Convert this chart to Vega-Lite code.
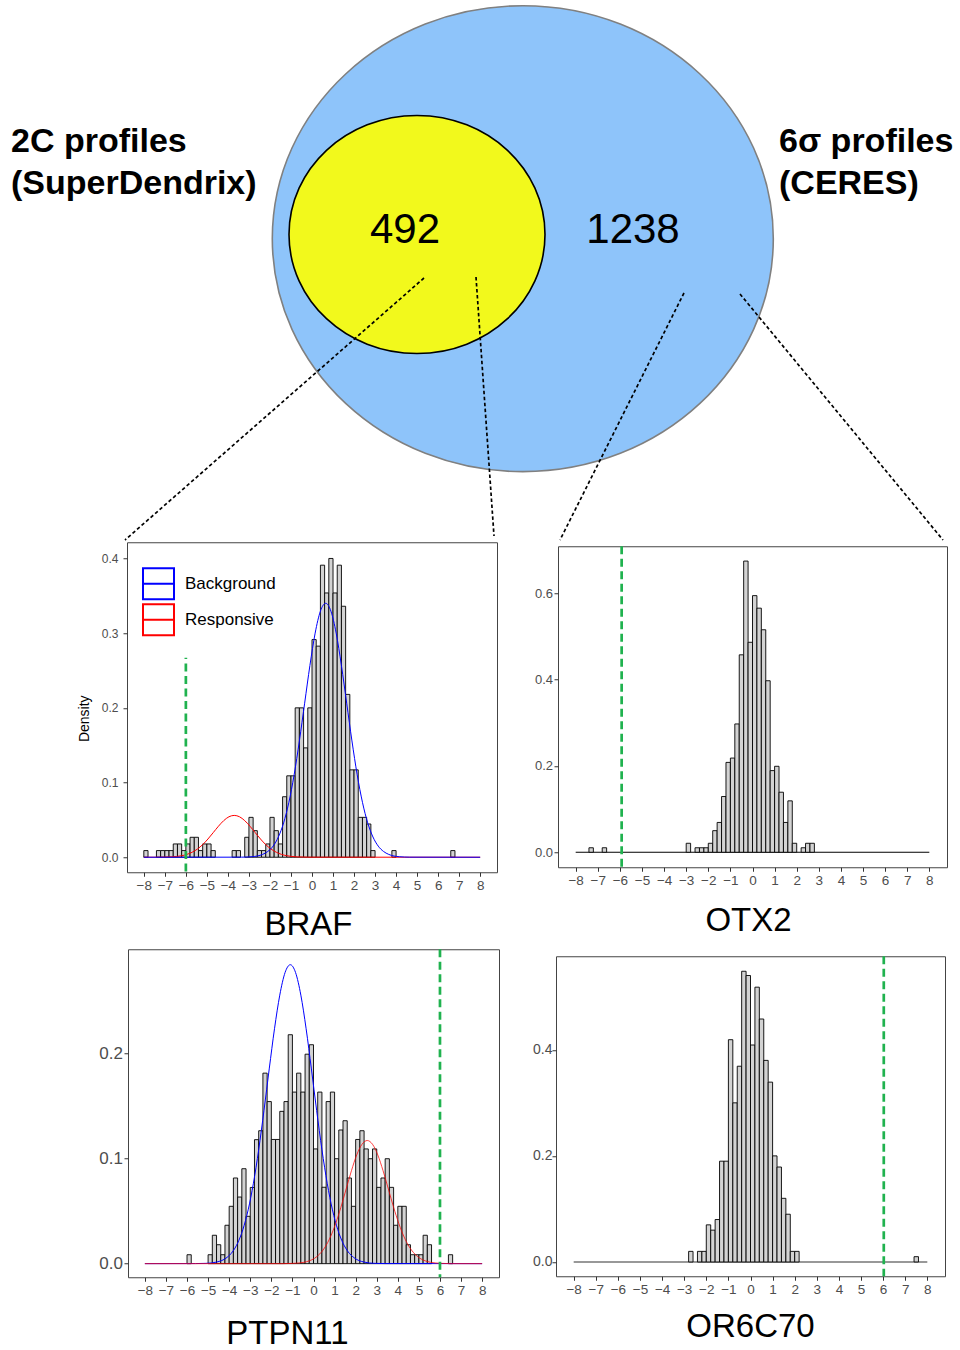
{
  "$schema": "https://vega.github.io/schema/vega-lite/v6.json",
  "padding": 0,
  "background": "#FFFFFF",
  "spacing": 0,
  "config": {
    "font": "Liberation Sans",
    "view": {"stroke": null},
    "axis": {"labelOverlap": false, "labelFlush": false, "labelBound": false, "labelSeparation": 0, "domain": false, "grid": false, "tickSize": 4, "tickColor": "#333333", "labelColor": "#4D4D4D"},
    "axisX": {"labelFontSize": 13.5, "labelPadding": 2, "labelOverlap": false},
    "axisBottom": {"labelFontSize": 13.5, "labelOverlap": false}
  },
  "resolve": {"scale": {"color": "independent"}, "legend": {"color": "independent"}},
  "datasets": {
    "sets": [
      {"set": "CERES", "cx": 522.8, "cy": 238.7},
      {"set": "SuperDendrix", "cx": 417, "cy": 234.5}
    ],
    "links": [
      {"gene": "BRAF", "x": 424, "y": 278, "x2": 125, "y2": 540},
      {"gene": "BRAF", "x": 476, "y": 277, "x2": 494, "y2": 536},
      {"gene": "OTX2", "x": 684, "y": 293, "x2": 560, "y2": 540},
      {"gene": "OTX2", "x": 740, "y": 294, "x2": 943, "y2": 540}
    ],
    "set_labels": [
      {"label": "2C profiles", "x": 11, "y": 152},
      {"label": "(SuperDendrix)", "x": 11, "y": 194},
      {"label": "6σ profiles", "x": 779, "y": 152},
      {"label": "(CERES)", "x": 779, "y": 194}
    ],
    "counts": [
      {"n": 492, "x": 405, "y": 243},
      {"n": 1238, "x": 633, "y": 243}
    ],
    "span": [{"x": -8, "x2": 8}],
    "cutoffs": [
      {"gene": "BRAF", "x": -6.0, "d": -0.019, "d2": 0.267},
      {"gene": "OTX2", "x": -5.92},
      {"gene": "PTPN11", "x": 6.0},
      {"gene": "OR6C70", "x": 6.03}
    ],
    "braf_hist": [
      {"x": -8.0, "x2": -7.8, "d": 0.0089},
      {"x": -7.4, "x2": -7.2, "d": 0.0089},
      {"x": -7.2, "x2": -7.0, "d": 0.0089},
      {"x": -7.0, "x2": -6.8, "d": 0.0089},
      {"x": -6.8, "x2": -6.6, "d": 0.0089},
      {"x": -6.6, "x2": -6.4, "d": 0.0178},
      {"x": -6.4, "x2": -6.2, "d": 0.0178},
      {"x": -6.2, "x2": -6.0, "d": 0.0089},
      {"x": -6.0, "x2": -5.8, "d": 0.0178},
      {"x": -5.8, "x2": -5.6, "d": 0.0267},
      {"x": -5.6, "x2": -5.4, "d": 0.0267},
      {"x": -5.4, "x2": -5.2, "d": 0.0089},
      {"x": -5.2, "x2": -5.0, "d": 0.0178},
      {"x": -5.0, "x2": -4.8, "d": 0.0178},
      {"x": -4.8, "x2": -4.6, "d": 0.0089},
      {"x": -3.8, "x2": -3.6, "d": 0.0089},
      {"x": -3.6, "x2": -3.4, "d": 0.0089},
      {"x": -3.2, "x2": -3.0, "d": 0.0267},
      {"x": -3.0, "x2": -2.8, "d": 0.0534},
      {"x": -2.8, "x2": -2.6, "d": 0.0356},
      {"x": -2.6, "x2": -2.4, "d": 0.0089},
      {"x": -2.4, "x2": -2.2, "d": 0.0089},
      {"x": -2.2, "x2": -2.0, "d": 0.0178},
      {"x": -2.0, "x2": -1.8, "d": 0.0534},
      {"x": -1.8, "x2": -1.6, "d": 0.0356},
      {"x": -1.6, "x2": -1.4, "d": 0.0178},
      {"x": -1.4, "x2": -1.2, "d": 0.081},
      {"x": -1.2, "x2": -1.0, "d": 0.109},
      {"x": -1.0, "x2": -0.8, "d": 0.109},
      {"x": -0.8, "x2": -0.6, "d": 0.2},
      {"x": -0.6, "x2": -0.4, "d": 0.2},
      {"x": -0.4, "x2": -0.2, "d": 0.1464},
      {"x": -0.2, "x2": 0.0, "d": 0.2},
      {"x": 0.0, "x2": 0.2, "d": 0.2914},
      {"x": 0.2, "x2": 0.4, "d": 0.2826},
      {"x": 0.4, "x2": 0.6, "d": 0.391},
      {"x": 0.6, "x2": 0.8, "d": 0.3538},
      {"x": 0.8, "x2": 1.0, "d": 0.4},
      {"x": 1.0, "x2": 1.2, "d": 0.3538},
      {"x": 1.2, "x2": 1.4, "d": 0.391},
      {"x": 1.4, "x2": 1.6, "d": 0.336},
      {"x": 1.6, "x2": 1.8, "d": 0.218},
      {"x": 1.8, "x2": 2.0, "d": 0.117},
      {"x": 2.0, "x2": 2.2, "d": 0.117},
      {"x": 2.2, "x2": 2.4, "d": 0.0534},
      {"x": 2.4, "x2": 2.6, "d": 0.0534},
      {"x": 2.6, "x2": 2.8, "d": 0.0445},
      {"x": 2.8, "x2": 3.0, "d": 0.0089},
      {"x": 3.8, "x2": 4.0, "d": 0.0089},
      {"x": 6.6, "x2": 6.8, "d": 0.0089}
    ],
    "braf_fit": [
      {"curve": "Background", "x": -8, "d": 0},
      {"curve": "Background", "x": -3.35, "d": 0.0001},
      {"curve": "Background", "x": -2.85, "d": 0.0007},
      {"curve": "Background", "x": -2.35, "d": 0.0038},
      {"curve": "Background", "x": -2.1, "d": 0.0078},
      {"curve": "Background", "x": -1.85, "d": 0.0149},
      {"curve": "Background", "x": -1.6, "d": 0.0271},
      {"curve": "Background", "x": -1.35, "d": 0.046},
      {"curve": "Background", "x": -1.1, "d": 0.0735},
      {"curve": "Background", "x": -0.85, "d": 0.1104},
      {"curve": "Background", "x": -0.6, "d": 0.1557},
      {"curve": "Background", "x": -0.35, "d": 0.2062},
      {"curve": "Background", "x": -0.1, "d": 0.2566},
      {"curve": "Background", "x": 0.15, "d": 0.3},
      {"curve": "Background", "x": 0.4, "d": 0.3295},
      {"curve": "Background", "x": 0.65, "d": 0.34},
      {"curve": "Background", "x": 0.9, "d": 0.3295},
      {"curve": "Background", "x": 1.15, "d": 0.3},
      {"curve": "Background", "x": 1.4, "d": 0.2566},
      {"curve": "Background", "x": 1.65, "d": 0.2062},
      {"curve": "Background", "x": 1.9, "d": 0.1557},
      {"curve": "Background", "x": 2.15, "d": 0.1104},
      {"curve": "Background", "x": 2.4, "d": 0.0735},
      {"curve": "Background", "x": 2.65, "d": 0.046},
      {"curve": "Background", "x": 2.9, "d": 0.0271},
      {"curve": "Background", "x": 3.15, "d": 0.0149},
      {"curve": "Background", "x": 3.4, "d": 0.0078},
      {"curve": "Background", "x": 3.65, "d": 0.0038},
      {"curve": "Background", "x": 4.15, "d": 0.0007},
      {"curve": "Background", "x": 4.65, "d": 0.0001},
      {"curve": "Background", "x": 8, "d": 0},
      {"curve": "Responsive", "x": -8, "d": 0},
      {"curve": "Responsive", "x": -7.2, "d": 0.0001},
      {"curve": "Responsive", "x": -6.7, "d": 0.0005},
      {"curve": "Responsive", "x": -6.2, "d": 0.002},
      {"curve": "Responsive", "x": -5.95, "d": 0.0038},
      {"curve": "Responsive", "x": -5.7, "d": 0.0067},
      {"curve": "Responsive", "x": -5.45, "d": 0.011},
      {"curve": "Responsive", "x": -5.2, "d": 0.0169},
      {"curve": "Responsive", "x": -4.95, "d": 0.0244},
      {"curve": "Responsive", "x": -4.7, "d": 0.0329},
      {"curve": "Responsive", "x": -4.45, "d": 0.0415},
      {"curve": "Responsive", "x": -4.2, "d": 0.049},
      {"curve": "Responsive", "x": -3.95, "d": 0.0542},
      {"curve": "Responsive", "x": -3.7, "d": 0.056},
      {"curve": "Responsive", "x": -3.45, "d": 0.0542},
      {"curve": "Responsive", "x": -3.2, "d": 0.049},
      {"curve": "Responsive", "x": -2.95, "d": 0.0415},
      {"curve": "Responsive", "x": -2.7, "d": 0.0329},
      {"curve": "Responsive", "x": -2.45, "d": 0.0244},
      {"curve": "Responsive", "x": -2.2, "d": 0.0169},
      {"curve": "Responsive", "x": -1.95, "d": 0.011},
      {"curve": "Responsive", "x": -1.7, "d": 0.0067},
      {"curve": "Responsive", "x": -1.45, "d": 0.0038},
      {"curve": "Responsive", "x": -1.2, "d": 0.002},
      {"curve": "Responsive", "x": -0.7, "d": 0.0005},
      {"curve": "Responsive", "x": -0.2, "d": 0.0001},
      {"curve": "Responsive", "x": 8, "d": 0}
    ],
    "otx2_hist": [
      {"x": -7.4, "x2": -7.2, "d": 0.0104},
      {"x": -6.8, "x2": -6.6, "d": 0.0104},
      {"x": -3.0, "x2": -2.8, "d": 0.0208},
      {"x": -2.6, "x2": -2.4, "d": 0.0104},
      {"x": -2.4, "x2": -2.2, "d": 0.0104},
      {"x": -2.2, "x2": -2.0, "d": 0.0104},
      {"x": -2.0, "x2": -1.8, "d": 0.0208},
      {"x": -1.8, "x2": -1.6, "d": 0.05},
      {"x": -1.6, "x2": -1.4, "d": 0.069},
      {"x": -1.4, "x2": -1.2, "d": 0.129},
      {"x": -1.2, "x2": -1.0, "d": 0.208},
      {"x": -1.0, "x2": -0.8, "d": 0.218},
      {"x": -0.8, "x2": -0.6, "d": 0.297},
      {"x": -0.6, "x2": -0.4, "d": 0.457},
      {"x": -0.4, "x2": -0.2, "d": 0.674},
      {"x": -0.2, "x2": 0.0, "d": 0.486},
      {"x": 0.0, "x2": 0.2, "d": 0.594},
      {"x": 0.2, "x2": 0.4, "d": 0.565},
      {"x": 0.4, "x2": 0.6, "d": 0.515},
      {"x": 0.6, "x2": 0.8, "d": 0.397},
      {"x": 0.8, "x2": 1.0, "d": 0.189},
      {"x": 1.0, "x2": 1.2, "d": 0.199},
      {"x": 1.2, "x2": 1.4, "d": 0.139},
      {"x": 1.4, "x2": 1.6, "d": 0.069},
      {"x": 1.6, "x2": 1.8, "d": 0.119},
      {"x": 1.8, "x2": 2.0, "d": 0.0208},
      {"x": 2.2, "x2": 2.4, "d": 0.0104},
      {"x": 2.4, "x2": 2.6, "d": 0.0208},
      {"x": 2.6, "x2": 2.8, "d": 0.0208}
    ],
    "ptpn11_hist": [
      {"x": -6.0, "x2": -5.8, "d": 0.0085},
      {"x": -5.0, "x2": -4.8, "d": 0.0085},
      {"x": -4.8, "x2": -4.6, "d": 0.027},
      {"x": -4.6, "x2": -4.4, "d": 0.018},
      {"x": -4.4, "x2": -4.2, "d": 0.0085},
      {"x": -4.2, "x2": -4.0, "d": 0.0365},
      {"x": -4.0, "x2": -3.8, "d": 0.0545},
      {"x": -3.8, "x2": -3.6, "d": 0.0814},
      {"x": -3.6, "x2": -3.4, "d": 0.0633},
      {"x": -3.4, "x2": -3.2, "d": 0.0902},
      {"x": -3.2, "x2": -3.0, "d": 0.045},
      {"x": -3.0, "x2": -2.8, "d": 0.0724},
      {"x": -2.8, "x2": -2.6, "d": 0.1178},
      {"x": -2.6, "x2": -2.4, "d": 0.1263},
      {"x": -2.4, "x2": -2.2, "d": 0.181},
      {"x": -2.2, "x2": -2.0, "d": 0.154},
      {"x": -2.0, "x2": -1.8, "d": 0.118},
      {"x": -1.8, "x2": -1.6, "d": 0.118},
      {"x": -1.6, "x2": -1.4, "d": 0.1447},
      {"x": -1.4, "x2": -1.2, "d": 0.154},
      {"x": -1.2, "x2": -1.0, "d": 0.2175},
      {"x": -1.0, "x2": -0.8, "d": 0.163},
      {"x": -0.8, "x2": -0.6, "d": 0.181},
      {"x": -0.6, "x2": -0.4, "d": 0.163},
      {"x": -0.4, "x2": -0.2, "d": 0.199},
      {"x": -0.2, "x2": 0.0, "d": 0.208},
      {"x": 0.0, "x2": 0.2, "d": 0.109},
      {"x": 0.2, "x2": 0.4, "d": 0.163},
      {"x": 0.4, "x2": 0.6, "d": 0.0726},
      {"x": 0.6, "x2": 0.8, "d": 0.154},
      {"x": 0.8, "x2": 1.0, "d": 0.163},
      {"x": 1.0, "x2": 1.2, "d": 0.0997},
      {"x": 1.2, "x2": 1.4, "d": 0.127},
      {"x": 1.4, "x2": 1.6, "d": 0.1358},
      {"x": 1.6, "x2": 1.8, "d": 0.0814},
      {"x": 1.8, "x2": 2.0, "d": 0.0545},
      {"x": 2.0, "x2": 2.2, "d": 0.118},
      {"x": 2.2, "x2": 2.4, "d": 0.1263},
      {"x": 2.4, "x2": 2.6, "d": 0.109},
      {"x": 2.6, "x2": 2.8, "d": 0.0997},
      {"x": 2.8, "x2": 3.0, "d": 0.109},
      {"x": 3.0, "x2": 3.2, "d": 0.0725},
      {"x": 3.2, "x2": 3.4, "d": 0.0814},
      {"x": 3.4, "x2": 3.6, "d": 0.0997},
      {"x": 3.6, "x2": 3.8, "d": 0.0725},
      {"x": 3.8, "x2": 4.0, "d": 0.0365},
      {"x": 4.0, "x2": 4.2, "d": 0.0545},
      {"x": 4.2, "x2": 4.4, "d": 0.0545},
      {"x": 4.4, "x2": 4.6, "d": 0.018},
      {"x": 4.6, "x2": 4.8, "d": 0.0085},
      {"x": 4.8, "x2": 5.0, "d": 0.0085},
      {"x": 5.0, "x2": 5.2, "d": 0.0085},
      {"x": 5.2, "x2": 5.4, "d": 0.027},
      {"x": 5.4, "x2": 5.6, "d": 0.018},
      {"x": 6.4, "x2": 6.6, "d": 0.0085}
    ],
    "ptpn11_fit": [
      {"curve": "Background", "x": -8, "d": 0},
      {"curve": "Background", "x": -5.6, "d": 0.0001},
      {"curve": "Background", "x": -5.1, "d": 0.0003},
      {"curve": "Background", "x": -4.6, "d": 0.0015},
      {"curve": "Background", "x": -4.1, "d": 0.006},
      {"curve": "Background", "x": -3.85, "d": 0.0111},
      {"curve": "Background", "x": -3.6, "d": 0.0195},
      {"curve": "Background", "x": -3.35, "d": 0.0324},
      {"curve": "Background", "x": -3.1, "d": 0.0511},
      {"curve": "Background", "x": -2.85, "d": 0.0764},
      {"curve": "Background", "x": -2.6, "d": 0.1083},
      {"curve": "Background", "x": -2.35, "d": 0.1454},
      {"curve": "Background", "x": -2.1, "d": 0.185},
      {"curve": "Background", "x": -1.85, "d": 0.2232},
      {"curve": "Background", "x": -1.6, "d": 0.2551},
      {"curve": "Background", "x": -1.35, "d": 0.2765},
      {"curve": "Background", "x": -1.1, "d": 0.284},
      {"curve": "Background", "x": -0.85, "d": 0.2765},
      {"curve": "Background", "x": -0.6, "d": 0.2551},
      {"curve": "Background", "x": -0.35, "d": 0.2232},
      {"curve": "Background", "x": -0.1, "d": 0.185},
      {"curve": "Background", "x": 0.15, "d": 0.1454},
      {"curve": "Background", "x": 0.4, "d": 0.1083},
      {"curve": "Background", "x": 0.65, "d": 0.0764},
      {"curve": "Background", "x": 0.9, "d": 0.0511},
      {"curve": "Background", "x": 1.15, "d": 0.0324},
      {"curve": "Background", "x": 1.4, "d": 0.0195},
      {"curve": "Background", "x": 1.65, "d": 0.0111},
      {"curve": "Background", "x": 1.9, "d": 0.006},
      {"curve": "Background", "x": 2.4, "d": 0.0015},
      {"curve": "Background", "x": 2.9, "d": 0.0003},
      {"curve": "Background", "x": 3.4, "d": 0.0001},
      {"curve": "Background", "x": 8, "d": 0},
      {"curve": "Responsive", "x": -8, "d": 0},
      {"curve": "Responsive", "x": -1.45, "d": 0},
      {"curve": "Responsive", "x": -0.95, "d": 0.0003},
      {"curve": "Responsive", "x": -0.45, "d": 0.0013},
      {"curve": "Responsive", "x": -0.2, "d": 0.0027},
      {"curve": "Responsive", "x": 0.05, "d": 0.0051},
      {"curve": "Responsive", "x": 0.3, "d": 0.0093},
      {"curve": "Responsive", "x": 0.55, "d": 0.0158},
      {"curve": "Responsive", "x": 0.8, "d": 0.0253},
      {"curve": "Responsive", "x": 1.05, "d": 0.038},
      {"curve": "Responsive", "x": 1.3, "d": 0.0536},
      {"curve": "Responsive", "x": 1.55, "d": 0.071},
      {"curve": "Responsive", "x": 1.8, "d": 0.0883},
      {"curve": "Responsive", "x": 2.05, "d": 0.1033},
      {"curve": "Responsive", "x": 2.3, "d": 0.1134},
      {"curve": "Responsive", "x": 2.55, "d": 0.117},
      {"curve": "Responsive", "x": 2.8, "d": 0.1134},
      {"curve": "Responsive", "x": 3.05, "d": 0.1033},
      {"curve": "Responsive", "x": 3.3, "d": 0.0883},
      {"curve": "Responsive", "x": 3.55, "d": 0.071},
      {"curve": "Responsive", "x": 3.8, "d": 0.0536},
      {"curve": "Responsive", "x": 4.05, "d": 0.038},
      {"curve": "Responsive", "x": 4.3, "d": 0.0253},
      {"curve": "Responsive", "x": 4.55, "d": 0.0158},
      {"curve": "Responsive", "x": 4.8, "d": 0.0093},
      {"curve": "Responsive", "x": 5.05, "d": 0.0051},
      {"curve": "Responsive", "x": 5.3, "d": 0.0027},
      {"curve": "Responsive", "x": 5.55, "d": 0.0013},
      {"curve": "Responsive", "x": 6.05, "d": 0.0003},
      {"curve": "Responsive", "x": 6.55, "d": 0},
      {"curve": "Responsive", "x": 8, "d": 0}
    ],
    "or6c70_hist": [
      {"x": -2.8, "x2": -2.6, "d": 0.02},
      {"x": -2.4, "x2": -2.2, "d": 0.02},
      {"x": -2.2, "x2": -2.0, "d": 0.02},
      {"x": -2.0, "x2": -1.8, "d": 0.07},
      {"x": -1.8, "x2": -1.6, "d": 0.06},
      {"x": -1.6, "x2": -1.4, "d": 0.08},
      {"x": -1.4, "x2": -1.2, "d": 0.19},
      {"x": -1.2, "x2": -1.0, "d": 0.19},
      {"x": -1.0, "x2": -0.8, "d": 0.419},
      {"x": -0.8, "x2": -0.6, "d": 0.3},
      {"x": -0.6, "x2": -0.4, "d": 0.369},
      {"x": -0.4, "x2": -0.2, "d": 0.548},
      {"x": -0.2, "x2": 0.0, "d": 0.54},
      {"x": 0.0, "x2": 0.2, "d": 0.409},
      {"x": 0.2, "x2": 0.4, "d": 0.518},
      {"x": 0.4, "x2": 0.6, "d": 0.458},
      {"x": 0.6, "x2": 0.8, "d": 0.38},
      {"x": 0.8, "x2": 1.0, "d": 0.339},
      {"x": 1.0, "x2": 1.2, "d": 0.2},
      {"x": 1.2, "x2": 1.4, "d": 0.179},
      {"x": 1.4, "x2": 1.6, "d": 0.12},
      {"x": 1.6, "x2": 1.8, "d": 0.09},
      {"x": 1.8, "x2": 2.0, "d": 0.02},
      {"x": 2.0, "x2": 2.2, "d": 0.02},
      {"x": 7.4, "x2": 7.6, "d": 0.01}
    ]
  },
  "vconcat": [
    {
      "width": 960,
      "height": 541,
      "view": {"stroke": null},
      "layer": [
        {
          "data": {"name": "sets"},
          "transform": [{"filter": "datum.set === 'CERES'"}],
          "mark": {"type": "point", "shape": "M-1,0A1,0.93,0,1,1,1,0A1,0.93,0,1,1,-1,0Z", "size": 251001, "filled": true, "fill": "#8EC4FA", "fillOpacity": 1, "opacity": 1, "stroke": "#808080", "strokeWidth": 1.6},
          "encoding": {
            "x": {"field": "cx", "type": "quantitative", "scale": {"domain": [0, 960], "nice": false, "zero": false}, "axis": null},
            "y": {"field": "cy", "type": "quantitative", "scale": {"domain": [0, 541], "nice": false, "zero": false, "reverse": true}, "axis": null}
          }
        },
        {
          "data": {"name": "sets"},
          "transform": [{"filter": "datum.set === 'SuperDendrix'"}],
          "mark": {"type": "point", "shape": "M-1,0A1,0.93,0,1,1,1,0A1,0.93,0,1,1,-1,0Z", "size": 65536, "filled": true, "fill": "#F2F91C", "fillOpacity": 1, "opacity": 1, "stroke": "#000000", "strokeWidth": 1.6},
          "encoding": {
            "x": {"field": "cx", "type": "quantitative"},
            "y": {"field": "cy", "type": "quantitative"}
          }
        },
        {
          "data": {"name": "links"},
          "mark": {"type": "rule", "color": "#000000", "strokeWidth": 1.7, "strokeDash": [3.5, 2.5]},
          "encoding": {
            "x": {"field": "x", "type": "quantitative"},
            "y": {"field": "y", "type": "quantitative"},
            "x2": {"field": "x2"},
            "y2": {"field": "y2"}
          }
        },
        {
          "data": {"name": "counts"},
          "mark": {"type": "text", "fontSize": 42, "color": "#000000", "align": "center", "baseline": "alphabetic"},
          "encoding": {
            "x": {"field": "x", "type": "quantitative"},
            "y": {"field": "y", "type": "quantitative"},
            "text": {"field": "n", "type": "quantitative", "format": "d"}
          }
        },
        {
          "data": {"name": "set_labels"},
          "mark": {"type": "text", "fontSize": 34, "fontWeight": "bold", "color": "#000000", "align": "left", "baseline": "alphabetic"},
          "encoding": {
            "x": {"field": "x", "type": "quantitative"},
            "y": {"field": "y", "type": "quantitative"},
            "text": {"field": "label", "type": "nominal"}
          }
        }
      ]
    },
    {
      "hconcat": [
        {
          "width": 41,
          "height": 10,
          "view": {"stroke": null},
          "data": {"values": []},
          "mark": {"type": "point", "opacity": 0}
        },
        {
          "width": 370,
          "height": 330,
          "view": {"stroke": "#444444", "strokeWidth": 1},
          "encoding": {
            "x": {
              "field": "x", "type": "quantitative",
              "scale": {"domain": [-8.8, 8.8], "nice": false, "zero": false},
              "axis": {"values": [-8, -7, -6, -5, -4, -3, -2, -1, 0, 1, 2, 3, 4, 5, 6, 7, 8], "tickCount": 17, "format": "d", "labelOverlap": false, "labelFontSize": 13.5, "title": "BRAF", "titleFontSize": 33, "titleFontWeight": "normal", "titleColor": "#000000", "titleX": 181, "titleY": 62, "titleBaseline": "alphabetic", "titleAlign": "center"}
            }
          },
          "layer": [
            {
              "data": {"name": "braf_hist"},
              "mark": {"type": "rect", "fill": "#D3D3D3", "stroke": "#000000", "strokeWidth": 0.9},
              "encoding": {
                "x2": {"field": "x2"},
                "y": {
                  "field": "d", "type": "quantitative",
                  "scale": {"domain": [-0.0201, 0.4217], "nice": false, "zero": false},
                  "axis": {"values": [0, 0.1, 0.2, 0.3, 0.4], "format": ".1f", "labelFontSize": 12, "labelPadding": 5, "title": "Density", "titleFontSize": 14, "titleFontWeight": "normal", "titleColor": "#000000", "titleX": -36, "titleY": 176}
                },
                "y2": {"datum": 0}
              }
            },
            {
              "data": {"name": "braf_fit"},
              "transform": [{"filter": "datum.curve === 'Responsive'"}],
              "mark": {"type": "line", "strokeWidth": 1, "interpolate": "monotone"},
              "encoding": {
                "y": {"field": "d", "type": "quantitative"},
                "color": {
                  "field": "curve", "type": "nominal",
                  "scale": {"domain": ["Background", "Responsive"], "range": ["#0000FF", "#FF0000"]},
                  "legend": {"title": null, "orient": "none", "legendX": 15, "legendY": 25, "symbolType": "M-1,-1H1V1H-1Z M-1,0H1", "symbolSize": 961, "symbolStrokeWidth": 2, "symbolFillColor": "transparent", "labelFontSize": 17, "labelColor": "#000000", "labelOffset": 10, "rowPadding": -3, "padding": 0}
                }
              }
            },
            {
              "data": {"name": "braf_fit"},
              "transform": [{"filter": "datum.curve === 'Background'"}],
              "mark": {"type": "line", "strokeWidth": 1, "interpolate": "monotone"},
              "encoding": {
                "y": {"field": "d", "type": "quantitative"},
                "color": {"field": "curve", "type": "nominal"}
              }
            },
            {
              "data": {"name": "cutoffs"},
              "transform": [{"filter": "datum.gene === 'BRAF'"}],
              "mark": {"type": "rule", "color": "#20B24F", "strokeWidth": 2.7, "strokeDash": [8, 4.5]},
              "encoding": {
                "y": {"field": "d", "type": "quantitative"},
                "y2": {"field": "d2"}
              }
            }
          ]
        },
        {
          "width": 389,
          "height": 321,
          "view": {"stroke": "#444444", "strokeWidth": 1},
          "encoding": {
            "x": {"field": "x", "type": "quantitative", "scale": {"domain": [-8.8, 8.8], "nice": false, "zero": false},
              "axis": {"values": [-8, -7, -6, -5, -4, -3, -2, -1, 0, 1, 2, 3, 4, 5, 6, 7, 8], "tickCount": 17, "format": "d", "labelOverlap": false, "labelFontSize": 13.5, "title": "OTX2", "titleFontSize": 33, "titleFontWeight": "normal", "titleColor": "#000000", "titleX": 190, "titleY": 63, "titleBaseline": "alphabetic", "titleAlign": "center"}}
          },
          "layer": [
            {
              "data": {"name": "span"},
              "mark": {"type": "rule", "color": "#000000", "strokeWidth": 1.2},
              "encoding": {
                "x2": {"field": "x2"},
                "y": {"datum": 0, "type": "quantitative", "scale": {"domain": [-0.0347, 0.7083], "nice": false, "zero": false},
                  "axis": {"values": [0, 0.2, 0.4, 0.6], "format": ".1f", "labelFontSize": 13, "labelPadding": 1.5, "title": null}}
              }
            },
            {
              "data": {"name": "otx2_hist"},
              "mark": {"type": "rect", "fill": "#D3D3D3", "stroke": "#000000", "strokeWidth": 0.9},
              "encoding": {
                "x2": {"field": "x2"},
                "y": {"field": "d", "type": "quantitative"},
                "y2": {"datum": 0}
              }
            },
            {
              "data": {"name": "cutoffs"},
              "transform": [{"filter": "datum.gene === 'OTX2'"}],
              "mark": {"type": "rule", "color": "#20B24F", "strokeWidth": 2.7, "strokeDash": [8, 4.5]}
            }
          ]
        }
      ],
      "spacing": 35,
      "center": true,
      "resolve": {"scale": {"color": "independent"}, "legend": {"color": "independent"}}
    },
    {
      "width": 10,
      "height": 5,
      "view": {"stroke": null},
      "data": {"values": []},
      "mark": {"type": "point", "opacity": 0}
    },
    {
      "hconcat": [
        {
          "width": 66,
          "height": 10,
          "view": {"stroke": null},
          "data": {"values": []},
          "mark": {"type": "point", "opacity": 0}
        },
        {
          "width": 371,
          "height": 328,
          "view": {"stroke": "#444444", "strokeWidth": 1},
          "encoding": {
            "x": {"field": "x", "type": "quantitative", "scale": {"domain": [-8.8, 8.8], "nice": false, "zero": false},
              "axis": {"values": [-8, -7, -6, -5, -4, -3, -2, -1, 0, 1, 2, 3, 4, 5, 6, 7, 8], "tickCount": 17, "format": "d", "labelOverlap": false, "labelFontSize": 13.5, "title": "PTPN11", "titleFontSize": 33, "titleFontWeight": "normal", "titleColor": "#000000", "titleX": 159, "titleY": 66, "titleBaseline": "alphabetic", "titleAlign": "center"}}
          },
          "layer": [
            {
              "data": {"name": "ptpn11_hist"},
              "mark": {"type": "rect", "fill": "#D3D3D3", "stroke": "#000000", "strokeWidth": 0.9},
              "encoding": {
                "x2": {"field": "x2"},
                "y": {"field": "d", "type": "quantitative", "scale": {"domain": [-0.0129, 0.2987], "nice": false, "zero": false},
                  "axis": {"values": [0, 0.1, 0.2], "format": ".1f", "labelFontSize": 17, "labelPadding": 1.5, "title": null}},
                "y2": {"datum": 0}
              }
            },
            {
              "data": {"name": "ptpn11_fit"},
              "transform": [{"filter": "datum.curve === 'Background'"}],
              "mark": {"type": "line", "strokeWidth": 1, "interpolate": "monotone", "color": "#0000FF"},
              "encoding": {
                "y": {"field": "d", "type": "quantitative"}
              }
            },
            {
              "data": {"name": "ptpn11_fit"},
              "transform": [{"filter": "datum.curve === 'Responsive'"}],
              "mark": {"type": "line", "strokeWidth": 1, "interpolate": "monotone", "color": "#FF0000", "strokeOpacity": 0.75},
              "encoding": {
                "y": {"field": "d", "type": "quantitative"}
              }
            },
            {
              "data": {"name": "cutoffs"},
              "transform": [{"filter": "datum.gene === 'PTPN11'"}],
              "mark": {"type": "rule", "color": "#20B24F", "strokeWidth": 2.7, "strokeDash": [8, 4.5]}
            }
          ]
        },
        {
          "width": 389,
          "height": 320,
          "view": {"stroke": "#444444", "strokeWidth": 1},
          "encoding": {
            "x": {"field": "x", "type": "quantitative", "scale": {"domain": [-8.8, 8.8], "nice": false, "zero": false},
              "axis": {"values": [-8, -7, -6, -5, -4, -3, -2, -1, 0, 1, 2, 3, 4, 5, 6, 7, 8], "tickCount": 17, "format": "d", "labelOverlap": false, "labelFontSize": 13.5, "title": "OR6C70", "titleFontSize": 33, "titleFontWeight": "normal", "titleColor": "#000000", "titleX": 194, "titleY": 60, "titleBaseline": "alphabetic", "titleAlign": "center"}}
          },
          "layer": [
            {
              "data": {"name": "span"},
              "mark": {"type": "rule", "color": "#333333", "strokeWidth": 1.2},
              "encoding": {
                "x2": {"field": "x2"},
                "y": {"datum": 0, "type": "quantitative", "scale": {"domain": [-0.0269, 0.5763], "nice": false, "zero": false},
                  "axis": {"values": [0, 0.2, 0.4], "format": ".1f", "labelFontSize": 14, "labelPadding": 0, "title": null}}
              }
            },
            {
              "data": {"name": "or6c70_hist"},
              "mark": {"type": "rect", "fill": "#D3D3D3", "stroke": "#000000", "strokeWidth": 0.9},
              "encoding": {
                "x2": {"field": "x2"},
                "y": {"field": "d", "type": "quantitative"},
                "y2": {"datum": 0}
              }
            },
            {
              "data": {"name": "cutoffs"},
              "transform": [{"filter": "datum.gene === 'OR6C70'"}],
              "mark": {"type": "rule", "color": "#20B24F", "strokeWidth": 2.7, "strokeDash": [8, 4.5]}
            }
          ]
        }
      ],
      "spacing": 32,
      "center": true,
      "resolve": {"scale": {"color": "independent"}, "legend": {"color": "independent"}}
    }
  ]
}
